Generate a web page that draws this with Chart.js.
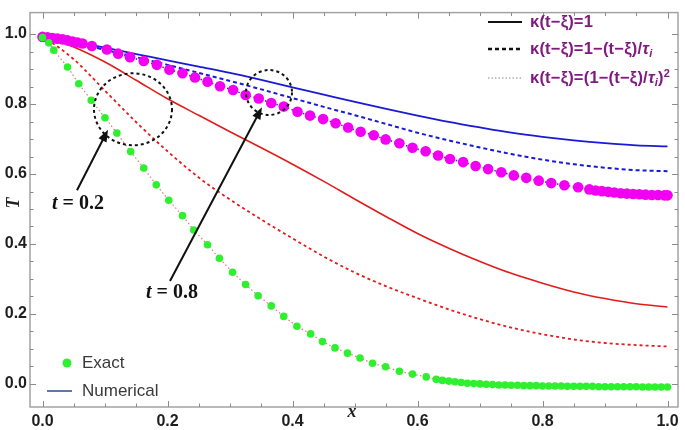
<!DOCTYPE html>
<html>
<head>
<meta charset="utf-8">
<script src="https://cdn.jsdelivr.net/npm/chart.js@4.4.1/dist/chart.umd.min.js"></script>
<style>
html, body { margin: 0; padding: 0; background: #fff; }
#wrap { position: relative; width: 685px; height: 430px; overflow: hidden; }
#c { position: absolute; left: 0; top: 0; }
.txt { position: absolute; white-space: nowrap; }
.kap { left: 530px; font: bold 16.5px "Liberation Sans", Arial, sans-serif; color: #801a80; line-height: 18px; letter-spacing: 0.2px; }
.kap sub { font-size: 11px; font-style: italic; vertical-align: -3px; line-height: 0; }
.kap sup { font-size: 11px; vertical-align: 6px; line-height: 0; }
.lg2 { left: 82px; font: 17px "Liberation Sans", Arial, sans-serif; color: #3a3a3a; line-height: 20px; }
.ann { font: bold 20px "Liberation Serif", "Times New Roman", serif; color: #111; transform: translate(-50%, -50%); }
.axt { font: bold italic 18px "Liberation Serif", serif; color: #222; transform: translate(-50%, -50%); }
</style>
</head>
<body>
<div id="wrap">
    <canvas id="c" width="685" height="430"></canvas>

    <svg class="txt" style="left:0;top:0" width="685" height="430">
        <line x1="488" y1="22" x2="522" y2="22" stroke="#111" stroke-width="2"/>
        <line x1="488" y1="49" x2="522" y2="49" stroke="#111" stroke-width="2.5" stroke-dasharray="4,3"/>
        <line x1="488" y1="78" x2="522" y2="78" stroke="#888" stroke-width="1.2" stroke-dasharray="1.5,2"/>
        <circle cx="67" cy="363" r="4.5" fill="#2ef02e"/>
        <line x1="47" y1="391" x2="72" y2="391" stroke="#5a78b0" stroke-width="2"/>
    </svg>

    <div class="txt kap" style="top:12px">κ(t−ξ)=1</div>
    <div class="txt kap" style="top:39px">κ(t−ξ)=1−(t−ξ)/<i>τ</i><sub>i</sub></div>
    <div class="txt kap" style="top:68px">κ(t−ξ)=(1−(t−ξ)/<i>τ</i><sub>i</sub>)<sup>2</sup></div>

    <div class="txt lg2" style="top:353px">Exact</div>
    <div class="txt lg2" style="top:381px">Numerical</div>

    <div class="txt ann" style="left:78px;top:202px"><i>t</i> = 0.2</div>
    <div class="txt ann" style="left:172px;top:291px"><i>t</i> = 0.8</div>

    <div class="txt axt" style="left:13px;top:203px;transform:translate(-50%,-50%) rotate(-90deg)">T</div>
    <div class="txt axt" style="left:352px;top:411px">x</div>
</div>

<script>
// axis ticks
var xTicks = [0, 0.2, 0.4, 0.6, 0.8, 1.0];
var yTicks = [0, 0.2, 0.4, 0.6, 0.8, 1.0];

// numerical curves, common x grid
var xLine = [0, 0.05, 0.1, 0.15, 0.2, 0.25, 0.3, 0.35, 0.4, 0.45, 0.5, 0.55, 0.6, 0.65, 0.7, 0.75, 0.8, 0.85, 0.9, 0.95, 1.0];
var blueSolid = [0.995, 0.978, 0.961, 0.943, 0.925, 0.907, 0.889, 0.869, 0.848, 0.827, 0.806, 0.786, 0.767, 0.749, 0.733, 0.718, 0.706, 0.696, 0.688, 0.682, 0.679];
var blueDashed = [0.995, 0.975, 0.955, 0.934, 0.912, 0.889, 0.866, 0.842, 0.817, 0.792, 0.768, 0.743, 0.718, 0.696, 0.676, 0.657, 0.641, 0.628, 0.618, 0.611, 0.608];
var redSolid = [0.995, 0.963, 0.92, 0.868, 0.815, 0.768, 0.721, 0.675, 0.628, 0.579, 0.528, 0.478, 0.43, 0.388, 0.35, 0.316, 0.288, 0.263, 0.244, 0.229, 0.22];
var redDashed = [0.995, 0.928, 0.838, 0.748, 0.665, 0.59, 0.527, 0.47, 0.416, 0.364, 0.318, 0.279, 0.245, 0.213, 0.185, 0.161, 0.142, 0.127, 0.117, 0.111, 0.107];

// exact solution dots, t = 0.2
var greenX = [0, 0.01, 0.018, 0.04, 0.058, 0.078, 0.1, 0.119, 0.141, 0.162, 0.182, 0.202, 0.224, 0.242, 0.264, 0.283, 0.304, 0.325, 0.345, 0.366, 0.386, 0.407, 0.429, 0.448, 0.468, 0.488, 0.508, 0.528, 0.549, 0.571, 0.592, 0.614,
    0.63, 0.64, 0.65, 0.66, 0.67, 0.68, 0.69, 0.70, 0.71, 0.72, 0.73, 0.74, 0.75, 0.76, 0.77, 0.78, 0.79, 0.80, 0.81, 0.82, 0.83, 0.84, 0.85, 0.86, 0.87, 0.88, 0.89, 0.90, 0.91, 0.92, 0.93, 0.94, 0.95, 0.96, 0.97, 0.98, 0.99, 1.0];
var greenY = [0.99, 0.975, 0.954, 0.906, 0.858, 0.811, 0.761, 0.717, 0.664, 0.617, 0.569, 0.525, 0.481, 0.44, 0.398, 0.359, 0.319, 0.284, 0.252, 0.223, 0.193, 0.165, 0.143, 0.121, 0.103, 0.088, 0.074, 0.059, 0.049, 0.036, 0.028, 0.02,
    0.013, 0.01, 0.008, 0.006, 0.004, 0.002, 0.001, 0.0, -0.001, -0.002, -0.003, -0.003, -0.004, -0.004, -0.005, -0.005, -0.005, -0.006, -0.006, -0.006, -0.006, -0.007, -0.007, -0.007, -0.007, -0.007, -0.008, -0.008, -0.008, -0.008, -0.008, -0.008, -0.008, -0.009, -0.009, -0.009, -0.009, -0.009];

// exact solution dots, t = 0.8
var magX = [0, 0.008, 0.016, 0.024, 0.032, 0.04, 0.048, 0.056, 0.064, 0.079, 0.103, 0.121, 0.14, 0.162, 0.183, 0.203, 0.224, 0.244, 0.264, 0.284, 0.305, 0.325, 0.346, 0.366, 0.386, 0.408, 0.428, 0.449, 0.469, 0.489, 0.509, 0.53, 0.549, 0.571, 0.592, 0.613, 0.633, 0.652, 0.673, 0.693, 0.713, 0.734, 0.754, 0.774, 0.794, 0.814, 0.835, 0.857, 0.875,
    0.885, 0.895, 0.905, 0.915, 0.925, 0.935, 0.945, 0.955, 0.965, 0.975, 0.985, 0.995, 1.0];
var magY = [0.992, 0.991, 0.989, 0.987, 0.985, 0.982, 0.979, 0.976, 0.973, 0.966, 0.956, 0.944, 0.934, 0.923, 0.912, 0.898, 0.888, 0.876, 0.864, 0.851, 0.84, 0.826, 0.816, 0.803, 0.793, 0.778, 0.767, 0.757, 0.745, 0.733, 0.721, 0.711, 0.699, 0.688, 0.675, 0.665, 0.653, 0.643, 0.634, 0.623, 0.614, 0.605, 0.596, 0.589, 0.581, 0.574, 0.568, 0.562, 0.556,
    0.553, 0.551, 0.549, 0.547, 0.545, 0.544, 0.543, 0.542, 0.541, 0.54, 0.54, 0.539, 0.539];

function pts(xs, ys) {
    return xs.map(function (x, i) {
        return { x: x, y: ys[i] };
    });
}

// dashed ellipses and arrows, centres in data units, radii in px
var circles = [
    { x: 0.1448, y: 0.785, rx: 39, ry: 36 },
    { x: 0.3624, y: 0.833, rx: 23, ry: 22.5 }
];
var arrows = [
    { x0: 0.0552, y0: 0.5537, x1: 0.1048, y1: 0.7268 },
    { x0: 0.204, y0: 0.294, x1: 0.3512, y1: 0.7907 }
];

var frameTicks = {
    id: "frameTicks",
    afterDatasetsDraw: function (chart) {
        var ctx = chart.ctx;
        var a = chart.chartArea;
        var sx = chart.scales.x;
        var sy = chart.scales.y;
        ctx.save();
        ctx.strokeStyle = "#a3a3a3";
        ctx.lineWidth = 1.5;
        ctx.strokeRect(a.left, a.top, a.right - a.left, a.bottom - a.top);
        ctx.lineWidth = 1;
        ctx.strokeStyle = "#8a8a8a";
        ctx.beginPath();
        for (var k = 0; k <= 20; k++) {
            var v = k * 0.05;
            var len = k % 4 === 0 ? 6 : 3.5;
            var px = Math.round(sx.getPixelForValue(v)) + 0.5;
            ctx.moveTo(px, a.bottom);
            ctx.lineTo(px, a.bottom - len);
            ctx.moveTo(px, a.top);
            ctx.lineTo(px, a.top + len);
            var py = Math.round(sy.getPixelForValue(v)) + 0.5;
            ctx.moveTo(a.left, py);
            ctx.lineTo(a.left + len, py);
            ctx.moveTo(a.right, py);
            ctx.lineTo(a.right - len, py);
        }
        ctx.stroke();

        // annotations
        ctx.strokeStyle = "#111";
        ctx.fillStyle = "#111";
        ctx.lineWidth = 2;
        ctx.setLineDash([3, 3]);
        circles.forEach(function (c) {
            ctx.beginPath();
            ctx.ellipse(sx.getPixelForValue(c.x), sy.getPixelForValue(c.y), c.rx, c.ry, 0, 0, Math.PI * 2);
            ctx.stroke();
        });
        ctx.setLineDash([]);
        arrows.forEach(function (r) {
            var x0 = sx.getPixelForValue(r.x0), y0 = sy.getPixelForValue(r.y0);
            var x1 = sx.getPixelForValue(r.x1), y1 = sy.getPixelForValue(r.y1);
            var ang = Math.atan2(y1 - y0, x1 - x0);
            var hl = 12, hw = 4.5;
            ctx.beginPath();
            ctx.moveTo(x0, y0);
            ctx.lineTo(x1 - Math.cos(ang) * hl * 0.8, y1 - Math.sin(ang) * hl * 0.8);
            ctx.stroke();
            ctx.beginPath();
            ctx.moveTo(x1, y1);
            ctx.lineTo(x1 - Math.cos(ang) * hl - Math.sin(ang) * hw, y1 - Math.sin(ang) * hl + Math.cos(ang) * hw);
            ctx.lineTo(x1 - Math.cos(ang) * hl + Math.sin(ang) * hw, y1 - Math.sin(ang) * hl - Math.cos(ang) * hw);
            ctx.closePath();
            ctx.fill();
        });
        ctx.restore();
    }
};

var tickFont = { family: "'Liberation Sans', Arial, sans-serif", size: 16, weight: "bold" };

new Chart(document.getElementById("c"), {
    type: "scatter",
    data: {
        datasets: [
            {
                label: "Exact t=0.2",
                data: pts(greenX, greenY),
                showLine: true,
                borderColor: "rgba(225,105,105,0.9)",
                borderWidth: 1.2,
                borderDash: [1.5, 2.5],
                pointRadius: 3.8,
                pointBackgroundColor: "#2ef02e",
                pointBorderWidth: 0
            },
            {
                label: "Exact t=0.8",
                data: pts(magX, magY),
                showLine: true,
                borderColor: "#2a2ad8",
                borderWidth: 1.5,
                borderDash: [1.5, 2.5],
                pointRadius: 5.3,
                pointBackgroundColor: "#f200f2",
                pointBorderWidth: 0
            },
            {
                label: "t=0.8 k=1",
                data: pts(xLine, blueSolid),
                showLine: true,
                borderColor: "#1a1ad6",
                borderWidth: 1.8,
                pointRadius: 0,
                cubicInterpolationMode: "monotone"
            },
            {
                label: "t=0.8 linear",
                data: pts(xLine, blueDashed),
                showLine: true,
                borderColor: "#1a1ad6",
                borderWidth: 2,
                borderDash: [4, 3],
                pointRadius: 0,
                cubicInterpolationMode: "monotone"
            },
            {
                label: "t=0.2 k=1",
                data: pts(xLine, redSolid),
                showLine: true,
                borderColor: "#e31b1b",
                borderWidth: 1.6,
                pointRadius: 0,
                cubicInterpolationMode: "monotone"
            },
            {
                label: "t=0.2 linear",
                data: pts(xLine, redDashed),
                showLine: true,
                borderColor: "#e31b1b",
                borderWidth: 1.8,
                borderDash: [3, 3],
                pointRadius: 0,
                cubicInterpolationMode: "monotone"
            }
        ]
    },
    options: {
        responsive: false,
        animation: false,
        devicePixelRatio: 1,
        layout: { padding: { top: 3, right: 7, left: 0, bottom: 0 } },
        plugins: {
            legend: { display: false },
            tooltip: { enabled: false }
        },
        scales: {
            x: {
                type: "linear",
                min: -0.02,
                max: 1.0168,
                grid: { display: false, drawTicks: false },
                border: { display: false },
                afterBuildTicks: function (scale) {
                    scale.ticks = xTicks.map(function (v) { return { value: v }; });
                },
                afterFit: function (scale) {
                    scale.height = 23;
                },
                ticks: {
                    autoSkip: false,
                    maxRotation: 0,
                    padding: 5,
                    color: "#1e1e1e",
                    font: tickFont,
                    callback: function (value) { return value.toFixed(1); }
                }
            },
            y: {
                type: "linear",
                min: -0.066,
                max: 1.0614,
                grid: { display: false, drawTicks: false },
                border: { display: false },
                afterBuildTicks: function (scale) {
                    scale.ticks = yTicks.map(function (v) { return { value: v }; });
                },
                afterFit: function (scale) {
                    scale.width = 30;
                },
                ticks: {
                    autoSkip: false,
                    padding: 3,
                    color: "#1e1e1e",
                    font: tickFont,
                    callback: function (value) { return value.toFixed(1); }
                }
            }
        }
    },
    plugins: [frameTicks]
});
</script>
</body>
</html>
